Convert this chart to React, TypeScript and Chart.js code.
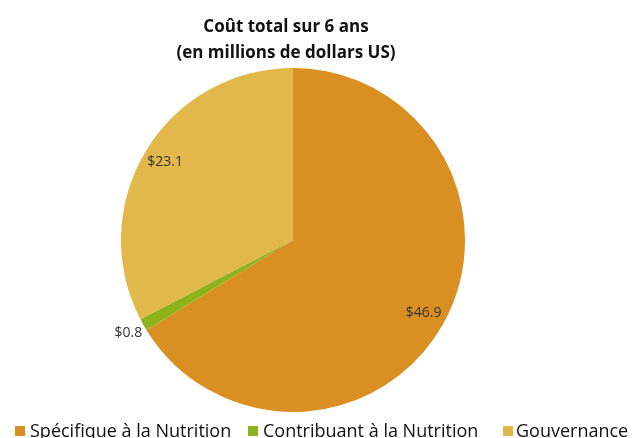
import React, { useEffect, useRef } from "react";
import { Chart, registerables } from "chart.js";

Chart.register(...registerables);

const categories = ["Spécifique à la Nutrition", "Contribuant à la Nutrition", "Gouvernance"];
const values = [46.9, 0.8, 23.1];
const valueLabels = ["$46.9", "$0.8", "$23.1"];
const colors = ["#D98F22", "#8CB21C", "#E3B84B"];
const titleLines = ["Coût total sur 6 ans", "(en millions de dollars US)"];

const FONT = "'Open Sans', 'Liberation Sans', sans-serif";

const decorPlugin = {
  id: "decor",
  afterDatasetsDraw(chart: any) {
    const ctx = chart.ctx;
    const meta = chart.getDatasetMeta(0);
    const total = values.reduce((a, b) => a + b, 0);
    ctx.save();
    // data labels
    ctx.font = `14px ${FONT}`;
    ctx.fillStyle = "#333333";
    ctx.textAlign = "center";
    ctx.textBaseline = "middle";
    meta.data.forEach((arc: any, i: number) => {
      const { x, y, startAngle, endAngle, outerRadius } = arc.getProps(
        ["x", "y", "startAngle", "endAngle", "outerRadius"],
        true
      );
      const mid = (startAngle + endAngle) / 2;
      const frac = values[i] / total;
      const r = frac < 0.05 ? outerRadius * 1.1 : outerRadius * 0.87;
      ctx.fillText(valueLabels[i], x + Math.cos(mid) * r, y + Math.sin(mid) * r);
    });
    // title
    ctx.font = `bold 17px ${FONT}`;
    ctx.fillStyle = "#111111";
    ctx.textBaseline = "alphabetic";
    ctx.fillText(titleLines[0], 286, 32);
    ctx.fillText(titleLines[1], 286, 58);
    // legend
    ctx.font = `18px ${FONT}`;
    ctx.textAlign = "left";
    const boxes = [15, 248, 503];
    const texts = [30, 263, 516];
    categories.forEach((c, i) => {
      ctx.fillStyle = colors[i];
      ctx.fillRect(boxes[i], 426, 10, 10);
      ctx.fillStyle = "#111111";
      ctx.fillText(c, texts[i], 437);
    });
    ctx.restore();
  },
};

export default function App() {
  const ref = useRef<HTMLCanvasElement>(null);
  useEffect(() => {
    if (!ref.current) return;
    const chart = new Chart(ref.current, {
      type: "pie",
      data: {
        labels: categories,
        datasets: [
          {
            data: values,
            backgroundColor: colors,
            borderWidth: 0,
          },
        ],
      },
      options: {
        animation: false,
        responsive: false,
        layout: { padding: { top: 68, bottom: 26, left: 0, right: 46 } },
        plugins: {
          legend: { display: false },
          title: { display: false },
          tooltip: { enabled: false },
        },
      },
      plugins: [decorPlugin],
    });
    return () => chart.destroy();
  }, []);
  return (
    <div style={{ position: "absolute", left: 0, top: 0, width: 632, height: 438, background: "#fff" }}>
      <canvas ref={ref} width={632} height={438} style={{ width: 632, height: 438 }} />
    </div>
  );
}
